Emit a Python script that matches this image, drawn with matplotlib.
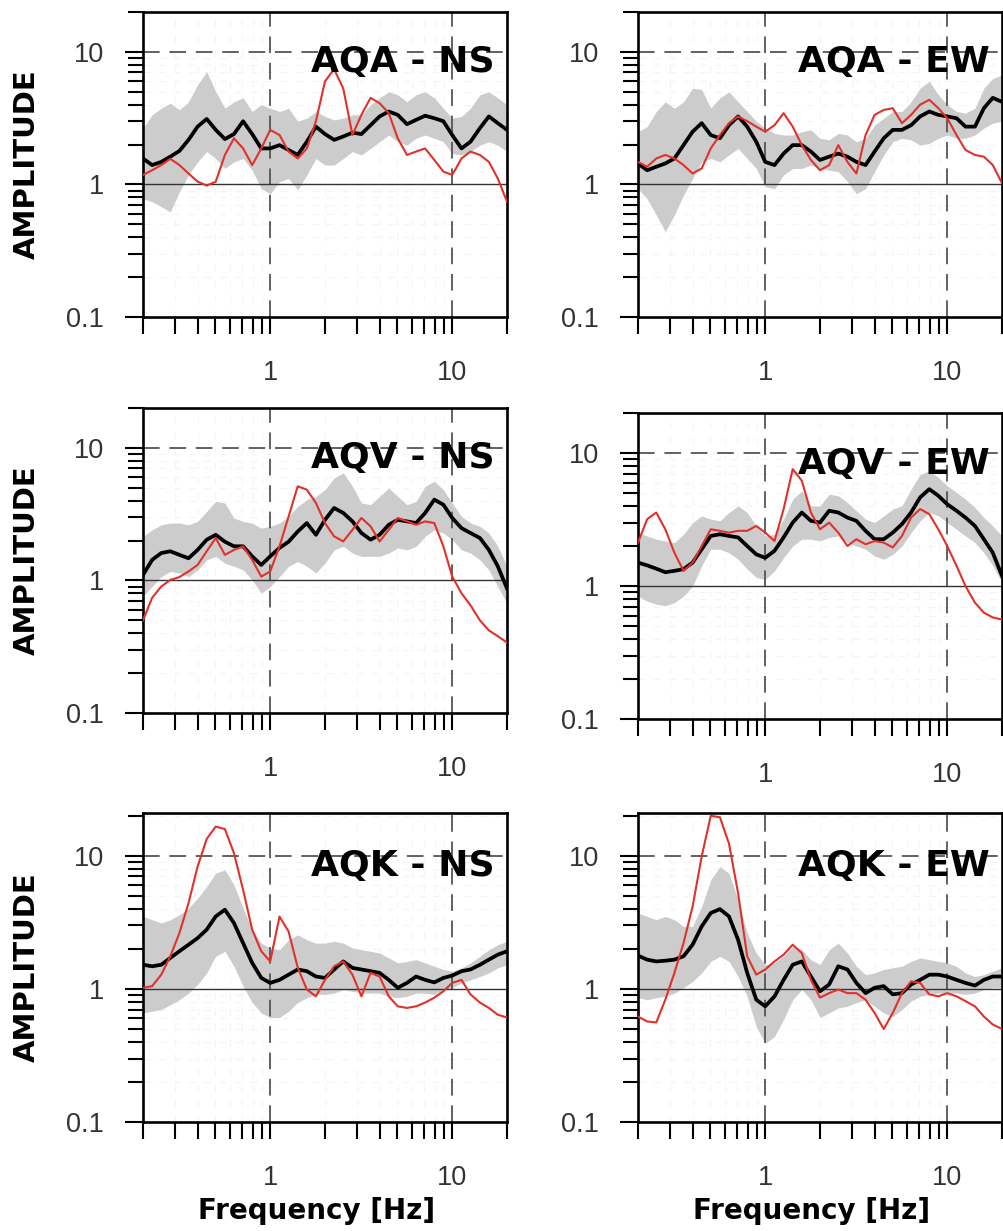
import matplotlib
matplotlib.use("Agg")
import matplotlib.pyplot as plt
from matplotlib.ticker import FixedLocator, FixedFormatter, NullFormatter
import matplotlib.transforms as mtransforms

plt.rcParams['font.family'] = ['Liberation Sans', 'DejaVu Sans']
plt.rcParams['lines.scale_dashes'] = False

# ---------------- data ----------------
freq = [0.2, 0.2245, 0.252, 0.2825, 0.317, 0.3557, 0.399, 0.4477, 0.502, 0.5637,
        0.632, 0.7096, 0.796, 0.893, 1.0, 1.125, 1.262, 1.416, 1.589, 1.783,
        2.0, 2.245, 2.52, 2.83, 3.17, 3.56, 3.99, 4.48, 5.02, 5.64,
        6.33, 7.10, 7.97, 8.94, 10.0, 11.25, 12.6, 14.2, 15.9, 17.8, 20.0]

titles = ["AQA - NS", "AQA - EW", "AQV - NS", "AQV - EW", "AQK - NS", "AQK - EW"]

aqa_ns_mean = [1.57,1.40,1.48,1.62,1.79,2.17,2.73,3.12,2.58,2.2,2.4,3.0,2.4,1.87,1.87,1.98,1.82,1.67,2.1,2.73,2.4,2.17,2.3,2.46,2.4,2.8,3.26,3.55,3.35,2.85,3.07,3.3,3.16,3.0,2.36,1.87,2.1,2.66,3.26,2.9,2.58]
aqa_ns_red = [1.18,1.28,1.40,1.56,1.40,1.21,1.05,0.98,1.05,1.67,2.23,1.87,1.40,1.87,2.58,2.36,1.77,1.57,1.87,3.0,6.0,7.4,5.3,2.36,3.35,4.5,4.1,3.45,2.23,1.67,1.77,1.87,1.53,1.25,1.18,1.57,1.77,1.67,1.48,1.11,0.74]
aqa_ns_hi = [2.66,3.35,3.76,4.1,3.66,4.2,5.65,7.1,5.0,3.76,4.2,4.5,3.55,4.0,3.76,3.55,3.76,3.0,3.16,3.55,3.26,3.07,3.16,3.35,3.35,4.0,4.5,5.0,4.75,4.2,4.75,5.0,4.5,3.76,3.16,3.26,3.76,4.75,5.0,4.5,4.0]
aqa_ns_lo = [0.78,0.74,0.68,0.62,0.88,1.18,1.48,1.77,1.57,1.32,1.48,1.57,1.28,0.93,0.85,1.05,1.11,0.91,1.18,1.57,1.40,1.40,1.57,1.77,1.67,1.87,2.1,2.36,2.1,1.98,2.23,2.36,2.23,2.1,1.71,1.67,1.77,1.98,2.1,1.98,1.77]

aqa_ew_mean = [1.44,1.28,1.36,1.44,1.57,1.98,2.5,2.9,2.36,2.23,2.8,3.26,2.73,2.1,1.48,1.40,1.71,1.98,1.98,1.77,1.53,1.62,1.71,1.62,1.48,1.40,1.77,2.23,2.58,2.58,2.8,3.26,3.55,3.35,3.26,3.16,2.73,2.73,3.76,4.5,4.2]
aqa_ew_red = [1.48,1.36,1.57,1.67,1.57,1.40,1.21,1.32,1.87,2.36,2.9,3.26,3.0,2.73,2.5,2.8,3.45,2.73,1.98,1.53,1.28,1.40,1.98,1.48,1.21,2.36,3.35,3.65,3.76,2.9,3.35,4.0,4.35,3.76,3.16,2.36,1.82,1.67,1.62,1.40,1.02]
aqa_ew_hi = [2.5,2.73,3.55,4.2,3.76,4.2,5.33,5.2,3.76,4.5,5.0,4.2,3.55,3.0,2.66,2.43,2.36,2.36,2.5,2.58,2.23,2.17,2.43,2.36,2.1,2.23,2.8,3.16,3.55,3.55,4.2,5.33,6.0,4.75,4.0,3.55,3.45,3.76,5.33,6.3,6.7]
aqa_ew_lo = [0.93,0.78,0.59,0.44,0.59,0.83,1.11,1.48,1.57,1.48,1.67,1.87,1.57,1.32,0.96,0.93,1.18,1.32,1.32,1.40,1.32,1.28,1.25,1.05,0.85,0.93,1.25,1.67,2.1,2.23,2.17,1.98,2.04,2.23,2.36,2.23,2.23,2.36,2.66,2.9,3.0]

aqv_ns_mean = [1.10,1.43,1.61,1.66,1.56,1.47,1.70,2.03,2.21,1.96,1.81,1.81,1.52,1.31,1.52,1.76,1.96,2.34,2.71,2.21,2.87,3.52,3.23,2.79,2.28,2.03,2.21,2.63,2.87,2.79,2.71,3.23,4.07,3.73,2.96,2.48,2.28,2.09,1.70,1.28,0.87]
aqv_ns_red = [0.50,0.74,0.90,1.01,1.06,1.17,1.31,1.66,2.09,1.56,1.70,1.81,1.43,1.07,1.17,1.81,3.04,5.13,4.84,3.84,2.71,2.15,1.97,2.41,2.96,2.56,1.97,2.41,2.96,2.79,2.63,2.79,2.71,1.81,1.07,0.80,0.65,0.50,0.42,0.38,0.34]
aqv_ns_hi = [2.15,2.41,2.63,2.71,2.71,2.63,2.79,3.32,3.95,3.84,2.96,2.79,2.71,2.48,2.56,2.71,3.04,3.62,4.07,4.31,4.84,5.93,6.48,5.13,3.84,3.73,4.31,4.98,4.31,3.73,3.95,5.13,5.6,4.84,3.84,3.04,2.71,2.56,2.28,1.81,1.28]
aqv_ns_lo = [0.76,0.90,1.07,1.17,1.14,1.07,1.20,1.43,1.52,1.35,1.28,1.20,1.01,0.80,0.90,1.07,1.28,1.39,1.28,1.14,1.35,1.70,1.81,1.61,1.52,1.52,1.52,1.61,1.76,1.70,1.81,2.15,2.41,2.28,2.03,1.70,1.61,1.43,1.20,0.90,0.67]

aqv_ew_mean = [1.50,1.43,1.35,1.27,1.30,1.34,1.50,1.89,2.38,2.45,2.38,2.32,2.0,1.73,1.63,1.84,2.32,3.0,3.57,3.09,3.0,3.68,3.57,3.27,3.09,2.6,2.25,2.25,2.52,2.92,3.57,4.64,5.35,4.77,4.12,3.68,3.27,2.83,2.25,1.78,1.19]
aqv_ew_red = [2.12,3.18,3.57,2.67,1.78,1.30,1.50,2.0,2.67,2.6,2.52,2.6,2.6,2.83,2.52,2.18,3.79,7.57,6.19,3.57,2.67,3.0,2.52,2.0,2.25,2.06,2.18,2.12,1.95,2.38,3.27,3.79,3.47,2.67,2.0,1.42,1.0,0.75,0.63,0.58,0.56]
aqv_ew_hi = [2.52,2.38,2.25,2.18,2.12,2.45,3.0,3.37,3.18,3.09,3.57,4.0,3.57,2.83,2.38,2.45,3.18,4.5,5.2,4.0,4.0,4.9,4.77,4.24,3.68,3.18,3.0,3.37,3.79,4.0,5.35,6.9,7.35,6.55,5.67,5.05,4.5,3.9,3.27,2.83,2.38]
aqv_ew_lo = [0.84,0.77,0.73,0.71,0.75,0.84,1.0,1.42,1.89,1.89,1.78,1.59,1.34,1.16,1.12,1.30,1.63,2.0,2.25,2.25,2.18,2.32,2.38,2.12,2.0,1.89,1.68,1.59,1.73,2.0,2.52,3.09,3.57,3.37,3.0,2.67,2.38,2.12,1.78,1.42,1.06]

aqk_ns_mean = [1.52,1.48,1.52,1.71,1.92,2.15,2.41,2.79,3.51,3.94,3.13,2.21,1.57,1.21,1.11,1.17,1.28,1.40,1.36,1.24,1.21,1.40,1.61,1.44,1.40,1.36,1.32,1.17,1.02,1.11,1.24,1.17,1.12,1.21,1.26,1.36,1.40,1.52,1.66,1.81,1.92]
aqk_ns_red = [1.02,1.05,1.28,1.76,2.63,4.42,8.3,13.4,16.6,15.9,10.5,5.56,2.79,1.92,1.61,3.5,2.7,1.45,0.99,0.88,1.17,1.48,1.61,1.28,0.88,1.32,1.24,0.88,0.74,0.72,0.74,0.79,0.86,0.96,1.11,1.17,0.91,0.79,0.72,0.64,0.61]
aqk_ns_hi = [3.51,3.31,3.13,3.31,3.61,4.05,4.81,5.88,7.41,7.85,6.05,4.05,2.79,2.21,2.03,1.97,2.34,2.55,2.34,2.21,2.21,2.28,2.21,2.03,1.97,1.92,1.86,1.71,1.57,1.61,1.66,1.57,1.48,1.40,1.36,1.44,1.57,1.76,1.97,2.15,2.28]
aqk_ns_lo = [0.66,0.68,0.70,0.76,0.83,0.93,1.08,1.32,1.76,1.92,1.48,1.05,0.79,0.66,0.61,0.61,0.68,0.79,0.86,0.91,0.91,0.93,0.99,0.96,0.93,0.93,0.93,0.88,0.86,0.88,0.93,0.93,0.91,0.99,1.02,1.11,1.17,1.24,1.32,1.44,1.52]

aqk_ew_mean = [1.78,1.66,1.61,1.63,1.66,1.76,2.15,2.95,3.72,3.98,3.51,2.34,1.32,0.83,0.74,0.88,1.17,1.52,1.61,1.24,0.96,1.08,1.48,1.40,1.11,0.93,1.02,1.05,0.91,0.93,1.08,1.17,1.28,1.28,1.24,1.17,1.11,1.06,1.17,1.24,1.24]
aqk_ew_red = [0.62,0.57,0.56,0.83,1.32,2.21,4.16,9.9,20.0,19.5,12.4,5.25,1.76,1.28,1.40,1.61,1.81,2.15,1.86,1.17,0.86,0.93,0.99,0.93,0.93,0.83,0.66,0.50,0.66,0.93,1.14,1.11,0.91,0.88,0.93,0.88,0.81,0.74,0.62,0.54,0.50]
aqk_ew_hi = [3.72,3.51,3.31,3.51,3.31,2.95,2.95,4.16,6.6,8.3,7.41,4.67,2.63,1.86,1.52,1.57,1.76,2.09,1.97,1.66,1.52,1.97,2.21,1.86,1.48,1.28,1.32,1.40,1.44,1.48,1.61,1.71,1.66,1.61,1.57,1.48,1.32,1.24,1.28,1.36,1.44]
aqk_ew_lo = [0.86,0.83,0.86,0.88,0.93,1.02,1.14,1.32,1.61,1.76,1.61,1.24,0.88,0.52,0.39,0.44,0.59,0.83,0.99,0.83,0.61,0.66,0.72,0.74,0.79,0.83,0.74,0.66,0.62,0.70,0.81,0.88,0.91,0.93,0.93,0.93,0.91,0.93,0.99,1.02,1.02]

panels = [
    (aqa_ns_mean, aqa_ns_red, aqa_ns_lo, aqa_ns_hi),
    (aqa_ew_mean, aqa_ew_red, aqa_ew_lo, aqa_ew_hi),
    (aqv_ns_mean, aqv_ns_red, aqv_ns_lo, aqv_ns_hi),
    (aqv_ew_mean, aqv_ew_red, aqv_ew_lo, aqv_ew_hi),
    (aqk_ns_mean, aqk_ns_red, aqk_ns_lo, aqk_ns_hi),
    (aqk_ew_mean, aqk_ew_red, aqk_ew_lo, aqk_ew_hi),
]

x_major = [1, 10]
x_major_labels = ["1", "10"]
x_minor = [0.2, 0.3, 0.4, 0.5, 0.6, 0.7, 0.8, 0.9, 2, 3, 4, 5, 6, 7, 8, 9, 20]
y_major = [0.1, 1, 10]
y_major_labels = ["0.1", "1", "10"]
y_minor = [0.2, 0.3, 0.4, 0.5, 0.6, 0.7, 0.8, 0.9, 2, 3, 4, 5, 6, 7, 8, 9, 20]

# ---------------- layout ----------------
W, H = 1004, 1231
fig = plt.figure(figsize=(W / 100, H / 100), dpi=100)

# pixel boxes (left, top, right, bottom)
boxes = [
    (143, 12, 507, 317), (638, 12, 1002, 317),
    (143, 408, 507, 713), (638, 413, 1002, 719),
    (143, 813, 507, 1122), (638, 813, 1002, 1122),
]
ytops = [20, 20, 20, 20, 21, 21]

BAND = '#cccccc'
RED = '#e2302a'
GRID = '#555555'
TICKLAB = '#333333'

for i, (box, ttl, (mean, red, lo, hi)) in enumerate(zip(boxes, titles, panels)):
    l, t, r, b = box
    ax = fig.add_axes([l / W, 1 - b / H, (r - l) / W, (b - t) / H])
    ax.set_xscale('log')
    ax.set_yscale('log')
    ax.set_xlim(0.2, 20)
    ax.set_ylim(0.1, ytops[i])

    ax.xaxis.set_major_locator(FixedLocator(x_major))
    ax.xaxis.set_major_formatter(FixedFormatter(x_major_labels))
    ax.xaxis.set_minor_locator(FixedLocator(x_minor))
    ax.xaxis.set_minor_formatter(NullFormatter())
    ax.yaxis.set_major_locator(FixedLocator(y_major))
    ax.yaxis.set_major_formatter(FixedFormatter(y_major_labels))
    ax.yaxis.set_minor_locator(FixedLocator(y_minor))
    ax.yaxis.set_minor_formatter(NullFormatter())

    ax.tick_params(which='both', direction='out', width=1.5, color='black')
    ax.tick_params(axis='x', which='both', length=12, pad=19,
                   labelsize=19.5, labelcolor=TICKLAB)
    ax.tick_params(axis='y', which='major', length=13, pad=15,
                   labelsize=19.5, labelcolor=TICKLAB)
    ax.tick_params(axis='y', which='minor', length=11)
    for sp in ax.spines.values():
        sp.set_linewidth(1.9)
        sp.set_color('black')

    # faint background grid
    ax.grid(which='minor', color='#f4f4f4', lw=0.8, ls=(0, (5, 6)))
    ax.set_axisbelow(True)

    ax.fill_between(freq, lo, hi, color=BAND, lw=0, zorder=1)

    for xv in (1, 10):
        ax.axvline(xv, color=GRID, lw=1.3, dashes=(12, 7), zorder=2)
    ax.axhline(10, color=GRID, lw=1.3, dashes=(12, 7), zorder=2)
    ax.axhline(1, color='#333333', lw=1.0, zorder=2)

    ax.plot(freq, mean, color='black', lw=2.7, zorder=3, solid_joinstyle='round')
    ax.plot(freq, red, color=RED, lw=1.5, zorder=4, solid_joinstyle='round')

    trans = mtransforms.blended_transform_factory(ax.transAxes, ax.transData)
    ax.text(0.965, 7.0, ttl, transform=trans, ha='right', va='baseline',
            fontsize=26, fontweight='bold', family='DejaVu Sans', zorder=5)

# y labels
for (l, t, r, b) in boxes[0::2]:
    fig.text(27 / W, 1 - ((t + b) / 2) / H, "AMPLITUDE", rotation=90,
             ha='center', va='center', fontsize=21, fontweight='bold',
             family='DejaVu Sans')

# x labels
for (l, t, r, b) in boxes[4:]:
    fig.text(((l + r) / 2 - 8) / W, 1 - 1211 / H, "Frequency [Hz]",
             ha='center', va='center', fontsize=20, fontweight='bold',
             family='DejaVu Sans')

fig.savefig("out.png", dpi=100)
